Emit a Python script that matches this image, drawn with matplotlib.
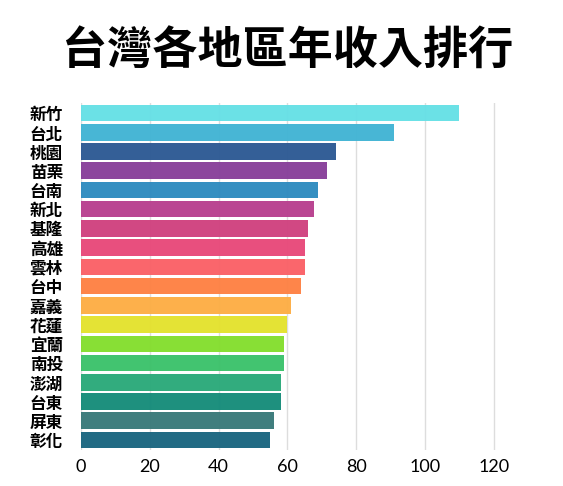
import matplotlib
matplotlib.use("Agg")
import matplotlib.pyplot as plt

plt.rcParams['font.family'] = ['Noto Sans CJK TC', 'DejaVu Sans']

title = "台灣各地區年收入排行"
regions = ["新竹", "台北", "桃園", "苗栗", "台南", "新北", "基隆", "高雄", "雲林",
           "台中", "嘉義", "花蓮", "宜蘭", "南投", "澎湖", "台東", "屏東", "彰化"]
values = [110, 91, 74, 71.6, 69, 67.8, 66, 65, 65,
          64, 61, 60, 59, 59, 58, 58, 56, 55]
colors = ["#66E0E6", "#42B4D4", "#2D5A94", "#88409A", "#2E8BBF", "#B8408F",
          "#D0427F", "#E8497A", "#FA6167", "#FE8144", "#FDAE45", "#E4E22E",
          "#84DE2E", "#3CC26B", "#2BAA7A", "#168C7A", "#3A7A7A", "#1B6680"]
xticks = [0, 20, 40, 60, 80, 100, 120]

fig = plt.figure(figsize=(5.63, 4.86), dpi=100)
ax = fig.add_axes([0.1439, 0.0749, 0.7698, 0.7123])

y = list(range(len(regions)))
ax.barh(y, values, height=0.86, color=colors, alpha=0.97, zorder=2)
ax.set_yticks(y)
ax.set_yticklabels(regions, fontsize=12, fontweight='bold')
ax.set_ylim(len(regions) - 0.5, -0.5)
ax.set_xlim(0, 126)
ax.set_xticks(xticks)
ax.set_xticklabels([str(t) for t in xticks], fontsize=13, family=['Lato', 'DejaVu Sans'])
ax.xaxis.grid(True, color='#dddddd', linewidth=1, zorder=0)
ax.set_axisbelow(True)
for s in ax.spines.values():
    s.set_visible(False)
ax.tick_params(axis='both', length=0)
ax.tick_params(axis='y', pad=13)
ax.tick_params(axis='x', pad=7)

fig.text(0.5115, 0.893, title, ha='center', va='center', fontsize=32.5, fontweight='bold')

fig.savefig("out.png", dpi=100, facecolor='white')
